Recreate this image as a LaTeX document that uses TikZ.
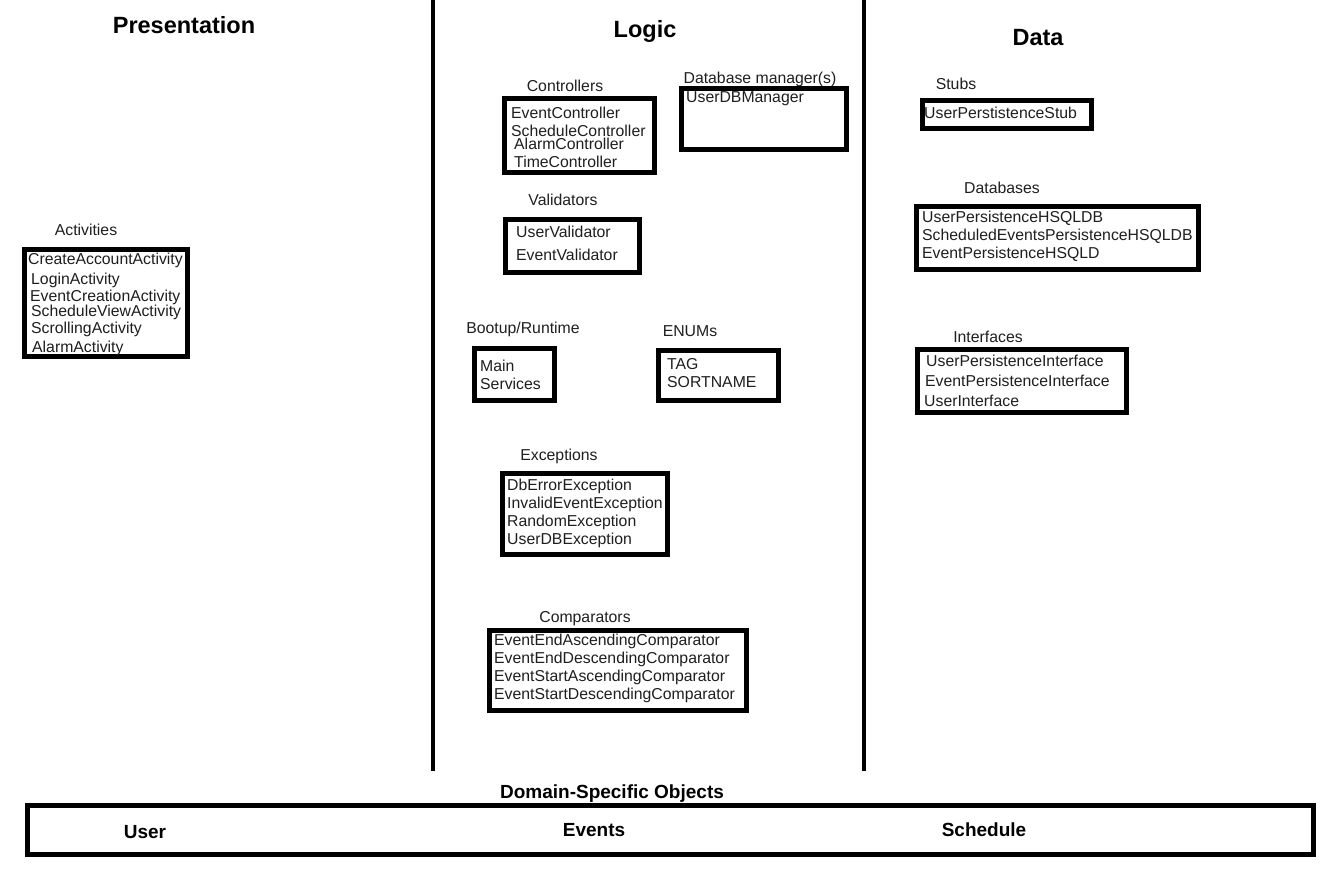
\documentclass[tikz,border=0pt]{standalone}
\usepackage{fontspec}
\setmainfont{Liberation Sans}
\begin{document}
\begin{tikzpicture}[x=1pt,y=-1pt,
  boxframe/.style={draw=black,line width=5pt,inner sep=0pt,outer sep=0pt},
  itemtxt/.style={anchor=base west,inner sep=0pt,font=\fontsize{15.8}{18}\selectfont,text=black!88},
  ttl/.style={anchor=base,inner sep=0pt,font=\fontsize{15.8}{18}\selectfont,text=black!88},
  hdr/.style={anchor=base,inner sep=0pt,font=\fontsize{23.5}{28}\selectfont\bfseries},
  dso/.style={anchor=base,inner sep=0pt,font=\fontsize{19}{22}\selectfont\bfseries},
  divider/.style={line width=4pt}]
\useasboundingbox[fill=white] (0,0) rectangle (1334,888);
\newcommand{\mybox}[5]{\node[boxframe,minimum width={#4-#2-5},minimum height={#5-#3-5}] (#1) at ({(#2+#4)/2},{(#3+#5)/2}) {};}

% headers
\node[hdr] (hpres) at (184,33.5) {Presentation};
\node[hdr] (hlogic) at (645,37.5) {Logic};
\node[hdr] (hdata) at (1038,45.5) {Data};

% dividers
\coordinate (d1t) at (433,0); \coordinate (d1b) at (433,771);
\coordinate (d2t) at (864,0); \coordinate (d2b) at (864,771);
\draw[divider] (d1t) -- (d1b);
\draw[divider] (d2t) -- (d2b);

% Presentation
\node[ttl] (tact) at (86,235.5) {Activities};
\mybox{bact}{22}{247}{190}{359}
\node[itemtxt] (a1) at (28,264.5) {CreateAccountActivity};
\node[itemtxt] (a2) at (31,284.5) {LoginActivity};
\node[itemtxt] (a3) at (30,301.5) {EventCreationActivity};
\node[itemtxt] (a4) at (31,316.5) {ScheduleViewActivity};
\node[itemtxt] (a5) at (31,333.5) {ScrollingActivity};
\node[itemtxt] (a6) at (32,352.5) {AlarmActivity};

% Logic
\node[ttl] (tctrl) at (565,91.5) {Controllers};
\mybox{bctrl}{502}{96}{657}{175}
\node[itemtxt] (c1) at (511,118.5) {EventController};
\node[itemtxt] (c2) at (511,136.5) {ScheduleController};
\node[itemtxt] (c3) at (514,149.5) {AlarmController};
\node[itemtxt] (c4) at (514,167.5) {TimeController};

\node[ttl] (tdbm) at (760,83.5) {Database manager(s)};
\mybox{bdbm}{679}{86}{849}{152}
\node[itemtxt] (m1) at (686,102.5) {UserDBManager};

\node[ttl] (tval) at (563,205.5) {Validators};
\mybox{bval}{503}{217}{642}{275}
\node[itemtxt] (v1) at (516,237.5) {UserValidator};
\node[itemtxt] (v2) at (516,260.5) {EventValidator};

\node[ttl] (tboot) at (523,333.5) {Bootup/Runtime};
\mybox{bboot}{472}{346}{557}{403}
\node[itemtxt] (b1) at (480,371.5) {Main};
\node[itemtxt] (b2) at (480,389.5) {Services};

\node[ttl] (tenum) at (690,336.5) {ENUMs};
\mybox{benum}{656}{348}{781}{403}
\node[itemtxt] (e1) at (667,369.5) {TAG};
\node[itemtxt] (e2) at (667,387.5) {SORTNAME};

\node[ttl] (texc) at (559,460.5) {Exceptions};
\mybox{bexc}{500}{471}{670}{557}
\node[itemtxt] (x1) at (507,490.5) {DbErrorException};
\node[itemtxt] (x2) at (507,508.5) {InvalidEventException};
\node[itemtxt] (x3) at (507,526.5) {RandomException};
\node[itemtxt] (x4) at (507,544.5) {UserDBException};

\node[ttl] (tcmp) at (585,622.5) {Comparators};
\mybox{bcmp}{487}{628}{749}{713}
\node[itemtxt] (k1) at (494,645.5) {EventEndAscendingComparator};
\node[itemtxt] (k2) at (494,663.5) {EventEndDescendingComparator};
\node[itemtxt] (k3) at (494,681.5) {EventStartAscendingComparator};
\node[itemtxt] (k4) at (494,699.5) {EventStartDescendingComparator};

% Data
\node[ttl] (tstub) at (956,89.5) {Stubs};
\mybox{bstub}{920}{98}{1094}{131}
\node[itemtxt] (s1) at (924,118.5) {UserPerstistenceStub};

\node[ttl] (tdb) at (1002,193.5) {Databases};
\mybox{bdb}{914}{204}{1201}{272}
\node[itemtxt] (p1) at (922,222.5) {UserPersistenceHSQLDB};
\node[itemtxt] (p2) at (922,240.5) {ScheduledEventsPersistenceHSQLDB};
\node[itemtxt] (p3) at (922,258.5) {EventPersistenceHSQLD};

\node[ttl] (tint) at (988,342.5) {Interfaces};
\mybox{bint}{915}{347}{1129}{415}
\node[itemtxt] (i1) at (926,366.5) {UserPersistenceInterface};
\node[itemtxt] (i2) at (925,386.5) {EventPersistenceInterface};
\node[itemtxt] (i3) at (924,406.5) {UserInterface};

% Domain-specific objects
\node[dso] (tdso) at (612,798) {Domain-Specific Objects};
\node[draw=black,line width=5pt,inner sep=0pt,outer sep=0pt,minimum width=1286pt,minimum height=49pt] (bdso) at (670.5,830) {};
\node[dso] (o1) at (145,838) {User};
\node[dso] (o2) at (594,836) {Events};
\node[dso] (o3) at (984,836) {Schedule};
\end{tikzpicture}
\end{document}
